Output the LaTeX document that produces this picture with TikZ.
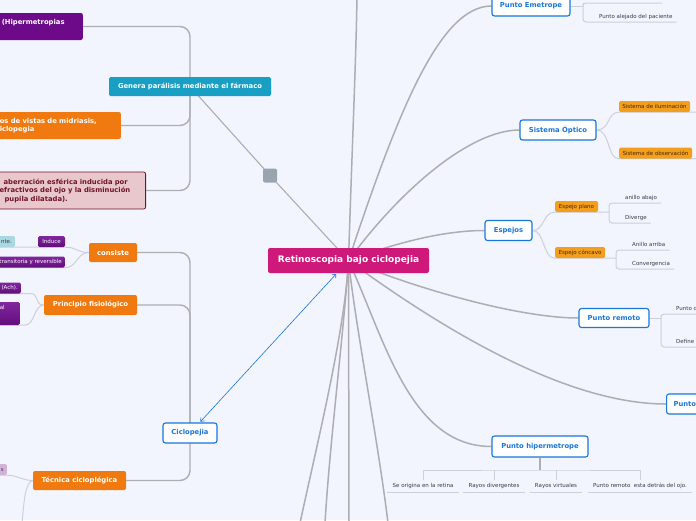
\documentclass[tikz,border=0pt]{standalone}
\usepackage{fontspec}
\setmainfont{DejaVu Sans}
\usepackage{xcolor}
\definecolor{mmbg}{RGB}{242,245,253}
\definecolor{mmmagenta}{RGB}{206,25,122}
\definecolor{mmteal}{RGB}{25,158,196}
\definecolor{mmorange}{RGB}{240,122,16}
\definecolor{mmpurple}{RGB}{108,10,138}
\definecolor{mmviolet}{RGB}{128,38,158}
\definecolor{mmplum}{RGB}{98,14,124}
\definecolor{mmblue}{RGB}{24,118,222}
\definecolor{mmpink}{RGB}{232,199,205}
\definecolor{mmwine}{RGB}{112,20,40}
\definecolor{mmamber}{RGB}{243,158,28}
\definecolor{mmbrown}{RGB}{74,40,0}
\definecolor{mmaqua}{RGB}{168,216,226}
\definecolor{mmlilac}{RGB}{208,178,218}
\definecolor{mmline}{RGB}{172,174,178}
\definecolor{mmleaf}{RGB}{204,208,218}
\definecolor{mmsquare}{RGB}{154,164,174}
\definecolor{mmtext}{RGB}{60,60,66}
\usepackage{tikz}
\usetikzlibrary{arrows.meta, positioning, backgrounds}
\newcommand{\mmrootfont}{\fontsize{9}{11}\selectfont\bfseries}
\newcommand{\mmtopicfont}{\fontsize{6.8}{8.5}\selectfont\bfseries}
\newcommand{\mmleaffont}{\fontsize{5.5}{6.5}\selectfont}
\tikzset{
  root/.style={fill=mmmagenta, text=white, font=\mmrootfont, rounded corners=2pt,
    minimum width=161, minimum height=25, inner sep=0},
  topic/.style={draw=mmblue, line width=1.1pt, fill=white, text=mmblue, font=\mmtopicfont,
    rounded corners=2.5pt, minimum height=20, inner xsep=0, inner ysep=0},
  branch/.style={fill=mmorange, text=white, font=\mmtopicfont, rounded corners=2pt,
    minimum height=19, inner xsep=0, inner ysep=0},
  block/.style={text=white, font=\mmtopicfont, rounded corners=2pt, inner xsep=5pt, inner ysep=3pt},
  tag/.style={fill=mmamber, text=mmbrown, font=\mmleaffont, rounded corners=1.5pt,
    minimum height=11, inner xsep=3pt, inner ysep=0},
  chip/.style={top color=mmviolet, bottom color=mmplum, text=white, font=\mmleaffont,
    rounded corners=1.5pt, minimum height=11, inner xsep=3pt, inner ysep=0},
  pale/.style={fill=#1, text=mmtext, font=\mmleaffont, rounded corners=1.5pt,
    minimum height=11, inner xsep=3pt, inner ysep=0},
  leaf/.style={text=mmtext, font=\mmleaffont, inner xsep=4pt, inner ysep=2.5pt,
    text height=4.2pt, text depth=1.3pt},
  rootline/.style={draw=mmline, line width=1.5pt},
  bracket/.style={draw=mmline, line width=1.4pt, rounded corners=10pt},
  leafline/.style={draw=mmleaf, line width=1pt},
}

\begin{document}
\begin{tikzpicture}[x=1pt, y=-1pt]
  \useasboundingbox (0,0) rectangle (696,520);
  % Central topic
  \node[root] (retino) at (348.5,260.5) {Retinoscopia bajo ciclopejia};

  % Upper left group
  \node[fill=mmteal, text=white, font=\mmtopicfont, rounded corners=1.5pt, minimum width=162,
    minimum height=19, inner sep=0] (genera) at (190,86.5) {Genera parálisis mediante el fármaco};
  \node[fill=mmsquare, minimum size=14, rounded corners=2pt, inner sep=0] (knob) at (270,175.5) {};
  \node[block, fill=mmpurple, anchor=east, text width=76, align=left, minimum height=27]
    (hiperm) at (83,26.5) {(Hipermetropias\\\mbox{}};
  \node[block, fill=mmorange, anchor=east, text width=116, align=left, minimum height=27]
    (midri) at (121,125.5) {os de vistas de midriasis,\\iclopegia};
  \node[block, fill=mmpink, draw=mmwine, line width=0.8pt, text=mmwine, anchor=east, text width=141,
    align=left, minimum height=37] (aberr) at (146,190.5)
    {\hspace*{4pt}aberración esférica inducida por\\efractivos del ojo y la disminución\\\hspace*{5pt}pupila dilatada).};

  % Lower left group
  \node[topic, minimum width=54] (ciclo) at (190,433) {Ciclopejia};
  \node[branch, minimum width=48] (consiste) at (113,252.5) {consiste};
  \node[branch, minimum width=93, minimum height=20] (princ) at (90.5,305) {Principio fisiológico};
  \node[branch, minimum width=93] (tecnica) at (79.5,480.5) {Técnica cicloplégica};
  \node[chip, minimum width=27] (induce) at (51.5,241.5) {Induce};
  \node[pale=mmaqua, anchor=east] (ente) at (15,241.5) {nte.};
  \node[chip, anchor=east] (transit) at (65,262) {transitoria y reversible};
  \node[chip, anchor=east] (ach) at (21,288) {(Ach).};
  \node[chip, anchor=east, text width=17, align=left, minimum height=23, inner ysep=2pt]
    (acetil) at (20,313.5) {al\\\mbox{}\\\mbox{}};
  \node[pale=mmlilac, anchor=east] (tecitem) at (7,469.5) {s};

  % Right topics
  \node[topic, minimum width=78] (emet) at (531,6) {Punto Emetrope};
  \node[topic, minimum width=76] (sisop) at (558,130) {Sistema Óptico};
  \node[topic, minimum width=47] (espejos) at (508.5,230.5) {Espejos};
  \node[topic, minimum width=70, minimum height=19] (remoto) at (614,318) {Punto remoto};
  \node[topic, anchor=west, text width=60, align=left, inner xsep=7pt] (miope) at (666,404) {Punto};
  \node[topic, minimum width=96, minimum height=21] (hipert) at (540,446.5) {Punto hipermetrope};

  % Right subtopics
  \node[tag, minimum width=71] (ilum) at (654.5,106.5) {Sistema de iluminación};
  \node[tag, minimum width=73] (observ) at (655.5,153) {Sistema de observación};
  \node[tag, minimum width=43] (plano) at (576.5,206.5) {Espejo plano};
  \node[tag, minimum width=50] (concavo) at (580,252.5) {Espejo cóncavo};

  % Leaves
  \node[leaf, anchor=south west] (alejado) at (595,22) {Punto alejado del paciente};
  \node[leaf, anchor=south west] (abajo) at (621,203) {anillo abajo};
  \node[leaf, anchor=south west] (diverge) at (621,223) {Diverge};
  \node[leaf, anchor=south west] (arriba) at (628,250) {Anillo arriba};
  \node[leaf, anchor=south west] (converg) at (628,269) {Convergencia};
  \node[leaf, anchor=south west] (puntod) at (672,314) {Punto d};
  \node[leaf, anchor=south west] (define) at (672,347) {Define};
  \node[leaf, anchor=north, minimum height=12, inner xsep=5pt] (origen) at (423,480) {Se origina en la retina};
  \node[leaf, anchor=north, minimum height=12, inner xsep=5pt] (divergen) at (494,480) {Rayos divergentes};
  \node[leaf, anchor=north, minimum height=12, inner xsep=5pt] (virtual) at (556,480) {Rayos virtuales};
  \node[leaf, anchor=north, minimum height=12, inner xsep=5pt] (detras) at (640,480) {Punto remoto\ \ esta detrás del ojo.};

  % Free ends
  \coordinate (topend) at (357,-3);
  \coordinate (downa) at (300,523);
  \coordinate (downb) at (325,523);
  \coordinate (downc) at (349,523);
  \coordinate (downd) at (388,523);
  \coordinate (tecdown) at (22,523);
  \coordinate (emetjoin) at (583,6);
  \coordinate (emettop) at (662,3);
  \coordinate (ilumend) at (700,112);
  \coordinate (observend) at (700,158.5);
  \coordinate (planojoin) at (609,212);
  \coordinate (concjoin) at (616,258);
  \coordinate (remjoin) at (661,318);
  \coordinate (hipjoin) at (540,470);

  % Link between the two maps
  \draw[mmblue, line width=0.6pt, {Straight Barb[length=3pt,width=5pt]}-{Straight Barb[length=3pt,width=5pt]},
    shorten <=1pt, shorten >=1pt] (ciclo) -- (retino);

  \begin{scope}[on background layer]
    \fill[mmbg] (0,0) rectangle (696,520);
    % Root branches
    \draw[rootline] (retino.center) .. controls (352,150) and (356,60) .. (topend);
    \draw[rootline] (retino.center) .. controls (398,111) and (440,6) .. (emet.west);
    \draw[rootline] (retino.center) .. controls (400,190) and (470,130) .. (sisop.west);
    \draw[rootline] (retino.center) .. controls (390,245) and (440,230.5) .. (espejos.west);
    \draw[rootline] (retino.center) .. controls (420,290) and (520,318) .. (remoto.west);
    \draw[rootline] (retino.center) .. controls (430,320) and (560,404) .. (miope.west);
    \draw[rootline] (retino.center) .. controls (385,340) and (410,446.5) .. (hipert.west);
    \draw[rootline] (retino.center) .. controls (345,330) and (318,440) .. (downa);
    \draw[rootline] (retino.center) .. controls (343,340) and (330,440) .. (downb);
    \draw[rootline] (retino.center) -- (downc);
    \draw[rootline] (retino.center) .. controls (356,330) and (378,440) .. (downd);
    \draw[rootline, line width=1.1pt] (genera.center) -- (knob.center) -- (retino.center);
    % Left brackets
    \draw[bracket] (hiperm.east) -| (genera.center) |- (aberr.east);
    \draw[bracket] (midri.east) -| (genera.center);
    \draw[bracket] (consiste.east) -| (ciclo.center) |- (tecnica.east);
    \draw[bracket] (princ.east) -| (ciclo.center);
    % Left leaves
    \draw[leafline] (consiste.west) .. controls +(-12,0) and +(12,0) .. (induce.south east) -- (ente.south west);
    \draw[leafline] (consiste.west) .. controls +(-12,0) and +(12,0) .. (transit.south east) -- (transit.south west);
    \draw[leafline] (princ.west) .. controls +(-10,0) and +(10,0) .. (30,293.5) -- (ach.south west);
    \draw[leafline] (princ.west) .. controls +(-10,0) and +(10,0) .. (25,325) -- (acetil.south west);
    \draw[leafline] (tecnica.west) .. controls +(-10,0) and +(10,0) .. (tecitem.south east) -- (tecitem.south west);
    \draw[leafline] (tecnica.west) .. controls +(-8,2) and +(2,-20) .. (tecdown);
    % Right leaves
    \draw[leafline] (emet.east) -- (emetjoin);
    \draw[leafline, rounded corners=3pt] (emettop) -| (emetjoin) |- (alejado.south east);
    \draw[leafline] (sisop.east) .. controls +(14,0) and +(-12,0) .. (ilum.south west) -- (ilumend);
    \draw[leafline] (sisop.east) .. controls +(14,0) and +(-12,0) .. (observ.south west) -- (observend);
    \draw[leafline] (espejos.east) .. controls +(12,0) and +(-12,0) .. (plano.south west) -- (planojoin);
    \draw[leafline, rounded corners=3pt] (abajo.south east) -| (planojoin) |- (diverge.south east);
    \draw[leafline] (espejos.east) .. controls +(12,0) and +(-12,0) .. (concavo.south west) -- (concjoin);
    \draw[leafline, rounded corners=3pt] (arriba.south east) -| (concjoin) |- (converg.south east);
    \draw[leafline] (remoto.east) -- (remjoin);
    \draw[leafline, rounded corners=3pt] (puntod.south east) -| (remjoin) |- (define.south east);
    \draw[rootline, line width=1.3pt] (hipert.south) -- (hipjoin);
    \draw[leafline] (origen.north) |- (hipjoin) -| (detras.north);
    \draw[leafline] (divergen.north) -- (divergen.north |- hipjoin);
    \draw[leafline] (virtual.north) -- (virtual.north |- hipjoin);
    \foreach \leafname in {origen, divergen, virtual, detras}
      \draw[leafline] (\leafname.south west) -- (\leafname.south east);
  \end{scope}
\end{tikzpicture}
\end{document}
